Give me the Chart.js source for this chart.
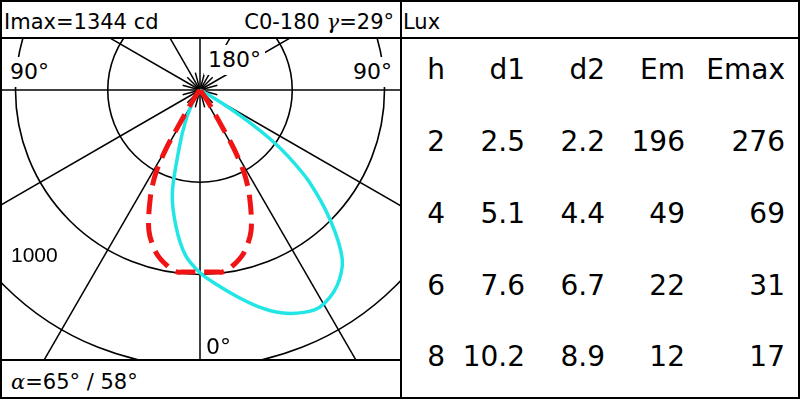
<!DOCTYPE html>
<html>
<head>
<meta charset="utf-8">
<script src="https://cdn.jsdelivr.net/npm/chart.js@4.4.1/dist/chart.umd.min.js"></script>
<style>
  body { margin: 0; background: #fff; }
  #page { position: relative; width: 800px; height: 400px; overflow: hidden; background: #fff;
          font-family: 'DejaVu Sans', sans-serif; color: #000; }
  .ln { position: absolute; background: #000; }
  .t { position: absolute; white-space: nowrap; line-height: 1; }
  .lbl { background: #fff; }
  .sym { font-family: 'DejaVu Serif', serif; font-style: italic; }
  #polar { position: absolute; left: 2px; top: 39px; }
</style>
</head>
<body>
<div id="page">
  <canvas id="polar" width="398" height="320"></canvas>
  <div class="ln" style="left:0;top:0;width:800px;height:2px"></div>
  <div class="ln" style="left:0;top:397px;width:800px;height:2px"></div>
  <div class="ln" style="left:0;top:0;width:2px;height:399px"></div>
  <div class="ln" style="left:798px;top:0;width:2px;height:399px"></div>
  <div class="ln" style="left:400px;top:0;width:2px;height:399px"></div>
  <div class="ln" style="left:0;top:37px;width:800px;height:2px"></div>
  <div class="ln" style="left:0;top:359px;width:400px;height:2px"></div>
</div>
<script>
// intensity (cd) against gamma angle, measured from the downward axis
const cyanAngles = [-40, -35, -30, -25, -20, -15, -10, -5, 0, 5, 10, 15, 20, 25, 29, 35, 40, 45, 50, 53, 55, 57, 59, 61, 63];
const cyanCd     = [0, 20, 80, 185, 325, 580, 750, 900, 990, 1060, 1135, 1215, 1285, 1330, 1344, 1295, 1200, 1000, 770, 600, 470, 300, 140, 30, 0];

const redAngles = [-40, -37, -34, -32, -31, -30, -28, -25, -20, -15, -10, -7, -5, 0, 5, 7, 10, 15, 20, 25, 28, 30, 31, 32, 34, 37, 40];
const redCd     = [0, 25, 80, 150, 230, 370, 510, 635, 810, 915, 975, 994, 990, 986, 990, 994, 975, 915, 810, 635, 510, 370, 230, 150, 80, 25, 0];

const ringValues = [500, 1000, 1500];

// table
const tableHead = ['h', 'd1', 'd2', 'Em', 'Emax'];
const heights = ['2', '4', '6', '8'];
const d1 = ['2.5', '5.1', '7.6', '10.2'];
const d2 = ['2.2', '4.4', '6.7', '8.9'];
const em = ['196', '49', '22', '12'];
const emax = ['276', '69', '31', '17'];

const pxPerCd = 0.1845;
const centre = { x: 198, y: 51 }; // inside the canvas

function toXY(angles, values) {
  return angles.map((a, i) => {
    const r = a * Math.PI / 180;
    return { x: values[i] * Math.sin(r), y: -values[i] * Math.cos(r) };
  });
}

const polarGrid = {
  id: 'polarGrid',
  beforeDatasetsDraw(chart) {
    const { ctx, chartArea, scales: { x, y } } = chart;
    const cx = x.getPixelForValue(0), cy = y.getPixelForValue(0);
    const k = (x.getPixelForValue(1000) - cx) / 1000;
    ctx.save();
    ctx.beginPath();
    ctx.rect(chartArea.left, chartArea.top, chartArea.width, chartArea.height);
    ctx.clip();
    ctx.strokeStyle = '#000';
    ctx.lineWidth = 1.6;
    ringValues.forEach(v => {
      ctx.beginPath();
      ctx.arc(cx, cy, v * k, 0, Math.PI * 2);
      ctx.stroke();
    });
    ctx.lineWidth = 1.5;
    for (let a = -180; a < 180; a += 15) {
      const len = (a % 30 === 0) ? 3000 * k : 18;
      const r = a * Math.PI / 180;
      ctx.beginPath();
      ctx.moveTo(cx, cy);
      ctx.lineTo(cx + Math.sin(r) * len, cy + Math.cos(r) * len);
      ctx.stroke();
    }
    ctx.restore();
  }
};

new Chart(document.getElementById('polar'), {
  type: 'scatter',
  data: {
    datasets: [
      {
        label: 'C90-270',
        data: toXY(redAngles, redCd),
        showLine: true,
        borderColor: '#f01414',
        borderWidth: 5,
        borderDash: [20, 9],
        pointRadius: 0,
        tension: 0.3,
        fill: false
      },
      {
        label: 'C0-180',
        data: toXY(cyanAngles, cyanCd),
        showLine: true,
        borderColor: '#22e6e6',
        borderWidth: 3.5,
        pointRadius: 0,
        tension: 0.3,
        fill: false
      }
    ]
  },
  options: {
    responsive: false,
    animation: false,
    devicePixelRatio: 1,
    layout: { padding: 0 },
    plugins: { legend: { display: false }, tooltip: { enabled: false } },
    scales: {
      x: { type: 'linear', display: false, min: -centre.x / pxPerCd, max: (398 - centre.x) / pxPerCd },
      y: { type: 'linear', display: false, min: -(320 - centre.y) / pxPerCd, max: centre.y / pxPerCd }
    }
  },
  plugins: [polarGrid]
});

// text helpers
const page = document.getElementById('page');
function addText(html, x, base, size, opts) {
  opts = opts || {};
  const pad = opts.pad || 0;
  const d = document.createElement('div');
  d.className = 't' + (opts.cls ? ' ' + opts.cls : '');
  d.innerHTML = html;
  d.style.fontSize = size + 'px';
  if (opts.family) d.style.fontFamily = opts.family;
  d.style.padding = pad + 'px';
  d.style.top = (base - 0.846 * size - pad) + 'px';
  if (opts.align === 'right') d.style.right = (800 - x - pad) + 'px';
  else d.style.left = (x - pad) + 'px';
  page.appendChild(d);
}

addText('Imax=1344 cd', 4, 30, 21);
addText('C0-180 <span class="sym">γ</span>=29°', 394, 30, 21, { align: 'right' });
addText('Lux', 403, 30, 21);
addText('<span class="sym">α</span>=65° / 58°', 11, 390, 21);

addText('90°', 10, 80, 22, { cls: 'lbl', pad: 4 });
addText('90°', 392, 80, 22, { cls: 'lbl', pad: 4, align: 'right' });
addText('180°', 208, 68, 22, { cls: 'lbl', pad: 4 });
addText('0°', 206, 355, 22);
addText('1000', 11, 262, 21, { family: "'Liberation Sans', Arial, sans-serif" });

const colRight = [445, 525, 605, 685, 785];
const rowBase = [80, 152, 224, 296, 367];
const columns = [heights, d1, d2, em, emax];
tableHead.forEach((h, c) => addText(h, colRight[c], rowBase[0], 28, { align: 'right' }));
columns.forEach((col, c) => col.forEach((v, r) => addText(v, colRight[c], rowBase[r + 1], 28, { align: 'right' })));
</script>
</body>
</html>
